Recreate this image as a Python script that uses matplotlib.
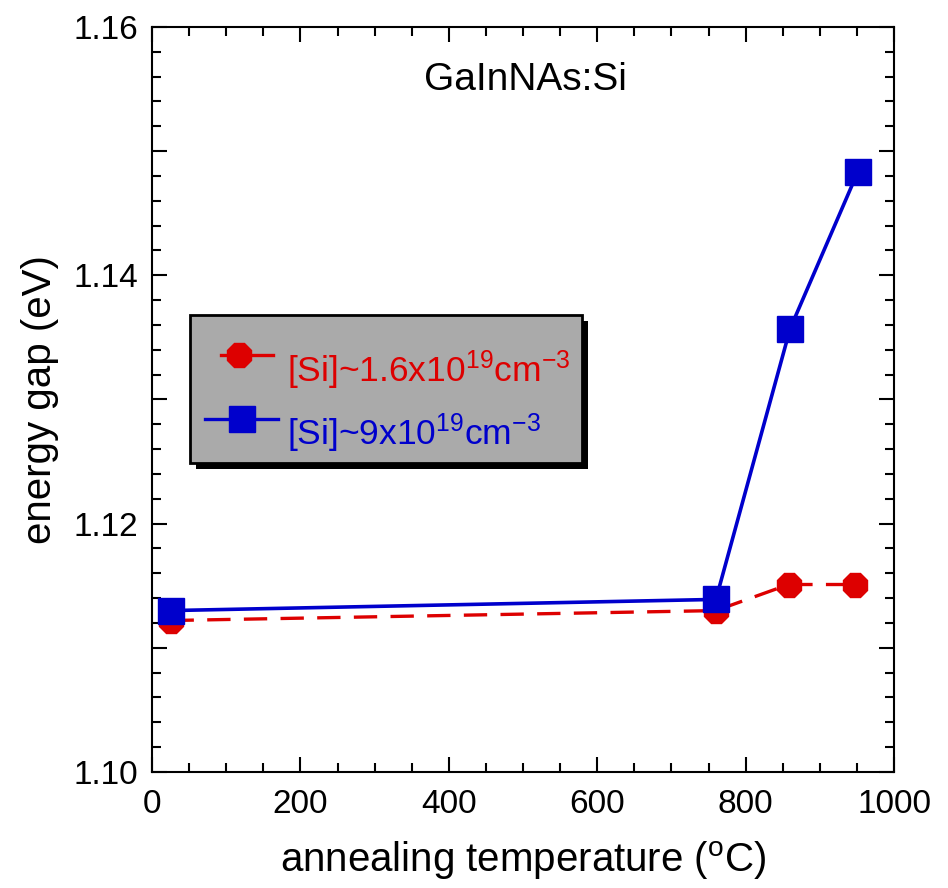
import numpy as np
import matplotlib.pyplot as plt
from matplotlib.patches import Rectangle
from matplotlib.ticker import MultipleLocator, FuncFormatter

plt.rcParams['font.family'] = ['Liberation Sans', 'DejaVu Sans']
plt.rcParams['mathtext.fontset'] = 'custom'
plt.rcParams['mathtext.rm'] = 'Liberation Sans'
plt.rcParams['mathtext.it'] = 'Liberation Sans'

# data
temp_low = [25, 760, 858, 948]
gap_low = [1.1122, 1.1130, 1.1151, 1.1151]
temp_high = [25, 760, 860, 951]
gap_high = [1.1130, 1.1139, 1.1357, 1.1483]

label_low = r'[Si]~1.6x10$^{19}$cm$^{-3}$'
label_high = r'[Si]~9x10$^{19}$cm$^{-3}$'

red = '#dd0000'
blue = '#0000cc'
dash = (0, (7, 4))


def legend_box(ax):
	# hand-drawn Origin style legend, positions in axes fractions
	ax.add_patch(Rectangle((0.0593, 0.4067), 0.5283, 0.1987, transform=ax.transAxes,
		facecolor='black', edgecolor='none', zorder=5))
	ax.add_patch(Rectangle((0.0512, 0.4148), 0.5283, 0.1987, transform=ax.transAxes,
		facecolor='#aaaaaa', edgecolor='black', lw=2, zorder=6))

	ax.plot([0.0930, 0.1631], [0.5597, 0.5597], transform=ax.transAxes, color=red,
		lw=2.4, clip_on=False, zorder=7)
	ax.plot([0.1173], [0.5597], transform=ax.transAxes, marker='8', ms=19, color=red,
		clip_on=False, zorder=8)
	ax.text(0.182, 0.5235, label_low, transform=ax.transAxes, color=red, fontsize=25.5,
		va='baseline', ha='left', zorder=8)

	ax.plot([0.0714, 0.1698], [0.4738, 0.4738], transform=ax.transAxes, color=blue,
		lw=2.4, clip_on=False, zorder=7)
	ax.plot([0.1213], [0.4738], transform=ax.transAxes, marker='s', ms=19, color=blue,
		clip_on=False, zorder=8)
	ax.text(0.182, 0.4389, label_high, transform=ax.transAxes, color=blue, fontsize=25.5,
		va='baseline', ha='left', zorder=8)


def main():
	fig = plt.figure(figsize=(9.48, 8.88), dpi=100)
	ax = fig.add_axes([152 / 948, 1 - 772 / 888, (894 - 152) / 948, (772 - 27) / 888])

	ax.plot(temp_low, gap_low, color=red, ls=dash, lw=2.4,
		marker='8', ms=19, mec=red, mfc=red, label=label_low)
	ax.plot(temp_high, gap_high, color=blue, ls='-', lw=2.6,
		marker='s', ms=19, mec=blue, mfc=blue, label=label_high)

	ax.set_xlim(0, 1000)
	ax.set_ylim(1.10, 1.16)

	ax.xaxis.set_major_locator(MultipleLocator(200))
	ax.xaxis.set_minor_locator(MultipleLocator(50))
	ax.yaxis.set_major_locator(MultipleLocator(0.01))
	ax.yaxis.set_minor_locator(MultipleLocator(0.002))

	def yfmt(v, pos):
		if round(v * 100) % 2 == 0:
			return '%.2f' % v
		return ''
	ax.yaxis.set_major_formatter(FuncFormatter(yfmt))

	ax.tick_params(which='both', direction='in', top=True, right=True, width=1.5)
	ax.tick_params(which='major', length=10.5)
	ax.tick_params(which='minor', length=6.5)
	ax.tick_params(axis='x', labelsize=24, pad=12)
	ax.tick_params(axis='y', labelsize=24, pad=10)
	for s in ax.spines.values():
		s.set_linewidth(1.5)

	ax.set_xlabel(r'annealing temperature ($^{\rm o}$C)', fontsize=29, labelpad=14)
	ax.set_ylabel('energy gap (eV)', fontsize=29, labelpad=10)

	ax.text(0.503, 0.929, 'GaInNAs:Si', transform=ax.transAxes, ha='center',
		va='center', fontsize=28)

	legend_box(ax)

	fig.savefig('out.png', dpi=100)


if __name__ == '__main__':
	main()
